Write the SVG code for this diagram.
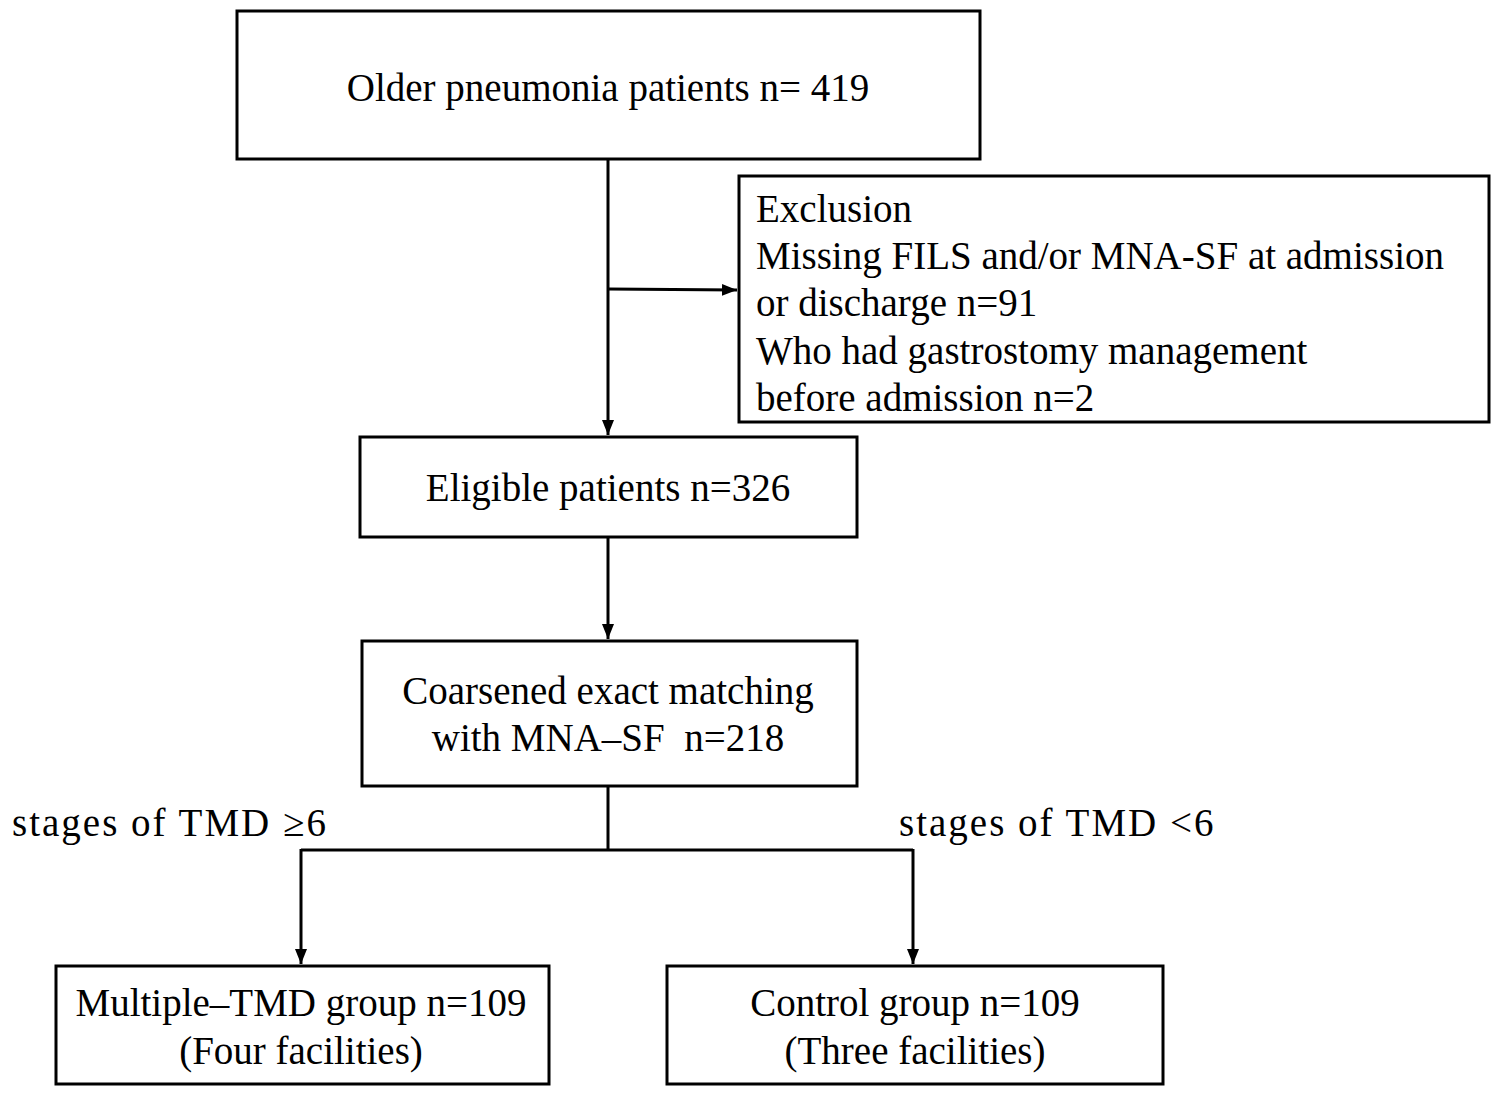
<svg xmlns="http://www.w3.org/2000/svg" width="1500" height="1094" viewBox="0 0 1500 1094">
<style>
rect{fill:#fff;stroke:#000;stroke-width:3}
text{font-family:"Liberation Serif","Times New Roman",serif;font-size:39px;fill:#000}
.c{text-anchor:middle}
.l{letter-spacing:2px}
#connectors path{fill:none;stroke:#000;stroke-width:3}
</style>
<defs><marker id="a" viewBox="0 0 10 10" refX="10" refY="5" markerWidth="5" markerHeight="5" orient="auto" markerUnits="strokeWidth"><path d="M0,1 L10,5 L0,9 z" fill="#000"/></marker></defs>
<rect width="1500" height="1094" style="stroke:none"/>
<g id="connectors">
<path d="M608,159 V435" marker-end="url(#a)"/>
<path d="M608,289 L737,290" marker-end="url(#a)"/>
<path d="M608,537 V639" marker-end="url(#a)"/>
<path d="M608,786 V850 M301,850 H913"/>
<path d="M301,849 V964" marker-end="url(#a)"/>
<path d="M913,849 V964" marker-end="url(#a)"/>
</g>
<g id="n1"><rect x="237" y="11" width="743" height="148"/><text class="c" x="608" y="101">Older pneumonia patients n= 419</text></g>
<g id="n2"><rect x="739" y="176" width="750" height="246"/>
<text x="756" y="222">Exclusion</text>
<text x="756" y="269">Missing FILS and/or MNA-SF at admission</text>
<text x="756" y="316">or discharge n=91</text>
<text x="756" y="364">Who had gastrostomy management</text>
<text x="756" y="411">before admission n=2</text></g>
<g id="n3"><rect x="360" y="437" width="497" height="100"/><text class="c" x="608" y="501">Eligible patients n=326</text></g>
<g id="n4"><rect x="362" y="641" width="495" height="145"/><text class="c" x="608" y="704">Coarsened exact matching</text><text class="c" x="608" y="751" xml:space="preserve">with MNA–SF  n=218</text></g>
<g id="n5"><rect x="56" y="966" width="493" height="118"/><text class="c" x="301" y="1016">Multiple–TMD group n=109</text><text class="c" x="301" y="1064">(Four facilities)</text></g>
<g id="n6"><rect x="667" y="966" width="496" height="118"/><text class="c" x="915" y="1016">Control group n=109</text><text class="c" x="915" y="1064">(Three facilities)</text></g>
<text class="l" x="12" y="836">stages of TMD ≥6</text>
<text class="l" x="899" y="836">stages of TMD &lt;6</text>
</svg>
